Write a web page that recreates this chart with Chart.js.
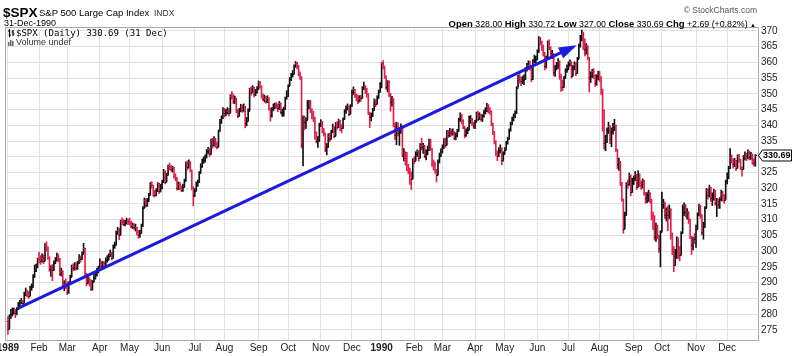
<!DOCTYPE html>
<html>
<head>
<meta charset="utf-8">
<script src="https://cdn.jsdelivr.net/npm/chart.js@4.4.1/dist/chart.umd.min.js"></script>
<style>
html,body{margin:0;padding:0;background:#fff;}
#wrap{position:relative;width:800px;height:356px;overflow:hidden;font-family:"Liberation Sans",Arial,sans-serif;color:#000;}
#c{position:absolute;left:0;top:0;}
.t{position:absolute;white-space:nowrap;line-height:1;}
.t b{font-weight:bold;font-size:9.5px;}
</style>
</head>
<body>
<div id="wrap">
<canvas id="c" width="800" height="356"></canvas>
<div class="t" style="left:3px;top:6px;font-size:13.5px;font-weight:bold;">$SPX</div>
<div class="t" style="left:39px;top:8px;font-size:9.5px;">S&amp;P 500 Large Cap Index</div>
<div class="t" style="left:154px;top:9px;font-size:8.5px;color:#333;">INDX</div>
<div class="t" style="left:4px;top:19px;font-size:9px;">31-Dec-1990</div>
<div class="t" style="right:43px;top:6px;font-size:8.5px;color:#555;">&copy; StockCharts.com</div>
<div class="t" style="right:44px;top:18.5px;font-size:8.8px;"><b>Open</b> 328.00 <b>High</b> 330.72 <b>Low</b> 327.00 <b>Close</b> 330.69 <b>Chg</b> +2.69 (+0.82%) <span style="font-size:6px">&#9650;</span></div>
<div class="t" style="left:8px;top:29px;font-size:9px;font-family:'DejaVu Sans Mono',monospace;"><svg width="7" height="8" style="vertical-align:-1px;margin-right:1px"><path d="M1.5 0V8M0 2H1.5M1.5 6H3M5 1V7M3.5 3H5M5 5H6.5" stroke="#000" stroke-width="1.2" fill="none"/></svg>$SPX (Daily) 330.69 (31 Dec)</div>
<div class="t" style="left:8px;top:37.5px;font-size:9px;color:#333;"><svg width="7" height="7" style="vertical-align:-1px;margin-right:1px"><rect x="0" y="3" width="1.5" height="4" fill="#666"/><rect x="2" y="1" width="1.5" height="6" fill="#666"/><rect x="4" y="2" width="1.5" height="5" fill="#666"/></svg>Volume undef</div>
</div>
<script>
// ---- categories / ticks ----
const monthLabels = ['1989','Feb','Mar','Apr','May','Jun','Jul','Aug','Sep','Oct','Nov','Dec',
                     '1990','Feb','Mar','Apr','May','Jun','Jul','Aug','Sep','Oct','Nov','Dec'];
const monthDays = [21,19,22,20,22,22,20,23,20,22,21,20, 22,19,22,20,22,21,21,23,19,23,21,20];
const yTicks = [275,280,285,290,295,300,305,310,315,320,325,330,335,340,345,350,355,360,365,370];

// ---- daily OHLC, $SPX Jan-1989 .. Dec-1990 ----
const opens = [
277.7,275.3,279.4,280.0,280.7,281.0,280.4,281.7,282.0,283.9,284.1,283.6,286.6,286.8,286.6,285.9,288.5,288.6,291.7,293.8,295.0,
297.5,297.1,296.8,297.7,297.0,301.6,300.8,298.2,294.3,294.6,293.9,296.4,297.2,298.6,297.7,292.9,293.8,289.0,289.7,
288.9,287.1,290.0,291.8,295.0,294.6,295.2,294.8,296.1,297.7,297.4,299.2,301.0,293.0,289.9,291.3,290.5,288.0,290.2,291.6,292.5,293.5,
294.9,296.4,295.3,296.2,295.4,297.2,297.3,298.5,299.4,297.8,301.7,302.0,305.9,306.6,305.2,309.6,309.4,308.7,309.1,309.6,
309.4,309.1,308.1,308.2,307.6,307.6,306.0,305.2,305.8,307.9,313.8,316.2,314.8,316.1,317.9,321.3,321.0,318.3,318.0,319.0,321.6,319.1,
320.5,322.0,325.5,322.0,324.2,327.0,326.7,326.0,326.6,323.8,323.4,320.1,321.4,320.3,319.6,320.5,322.3,328.0,326.6,328.4,325.8,320.5,
318.0,319.2,321.6,321.9,324.9,327.1,328.8,329.0,329.8,331.8,332.4,330.8,335.3,333.6,335.9,333.7,333.2,338.1,341.2,342.2,
345.0,343.8,344.3,344.7,343.9,349.4,349.3,347.7,348.3,344.7,343.1,344.7,346.0,345.0,346.0,340.7,341.4,344.7,351.5,350.5,352.1,349.8,350.7,
351.5,353.7,352.6,349.2,348.4,348.8,347.7,348.7,345.5,343.2,345.1,346.2,346.6,346.1,345.4,347.1,344.2,344.3,345.1,348.6,
349.2,352.6,354.7,356.0,356.3,358.8,359.8,359.1,356.4,355.4,333.7,342.9,341.2,341.8,347.1,347.2,344.8,343.7,342.5,337.9,335.1,335.1,
340.4,341.2,338.5,337.6,332.6,333.1,336.6,335.6,338.0,339.6,336.6,340.5,339.6,341.6,339.6,339.0,341.9,344.6,345.6,346.2,343.7,
346.0,350.6,351.4,349.6,348.6,347.6,348.7,348.6,351.7,352.6,350.9,350.1,344.2,342.5,342.8,344.8,348.0,346.8,348.8,350.7,
353.4,359.7,358.8,355.7,352.2,353.8,349.6,347.3,348.5,339.9,337.0,340.8,337.4,338.2,339.2,330.4,331.6,330.3,326.1,325.8,325.2,323.0,
329.1,328.8,330.9,331.9,329.7,333.8,333.0,333.6,330.1,331.0,332.0,334.9,332.7,328.0,327.7,325.7,324.2,328.7,330.3,
331.9,332.7,335.5,333.7,337.9,337.0,338.3,337.5,338.0,336.0,336.9,338.1,341.9,343.5,341.6,339.7,336.8,338.2,338.6,341.5,342.0,340.8,
339.9,341.2,343.6,342.1,343.3,342.1,342.9,344.2,344.7,346.1,344.7,344.6,340.7,338.1,335.1,331.1,330.4,332.0,332.9,329.1,
330.8,332.3,334.5,335.6,338.4,340.5,342.0,342.9,343.8,352.0,354.8,354.3,354.0,354.5,354.6,358.0,358.4,359.3,358.4,354.6,360.7,360.9,
361.2,363.2,367.4,366.6,365.0,363.2,358.7,361.6,366.3,364.9,362.9,362.9,356.9,358.5,359.1,360.5,355.4,352.3,352.1,355.1,357.6,
358.0,359.5,360.2,355.7,358.4,359.5,356.5,361.2,365.4,367.3,369.0,367.5,364.2,365.3,361.6,355.3,355.8,357.1,355.9,353.4,355.6,
356.2,355.5,351.5,344.9,334.4,334.8,338.4,339.9,335.5,338.8,339.4,340.1,332.4,327.8,328.5,321.9,316.6,307.1,311.5,321.4,321.3,324.2,318.7,
322.6,323.1,324.4,320.5,323.4,321.6,321.0,322.5,318.7,316.8,317.8,318.6,316.6,311.5,311.3,304.6,308.3,305.1,301.0,
306.1,314.9,315.2,311.4,312.7,311.5,313.5,305.1,300.4,295.5,300.0,303.2,298.9,298.8,305.7,312.5,314.8,312.4,312.6,310.2,304.7,301.9,304.1,
304.0,307.0,311.9,314.6,311.6,306.0,307.6,313.7,319.5,317.7,320.4,317.0,317.1,319.3,315.3,316.0,315.1,316.5,318.1,318.0,316.4,
322.2,324.1,326.4,329.9,329.1,327.8,328.9,326.4,330.2,329.3,326.8,326.0,330.1,330.2,330.1,331.8,329.9,330.9,328.3,328.00
];
const highs = [
279.2,279.8,281.5,282.0,281.9,281.6,282.1,283.7,284.4,285.0,284.3,287.0,288.3,287.6,287.2,288.9,289.6,292.6,295.6,295.9,297.8,
299.7,298.6,299.2,298.9,302.4,303.0,301.4,298.2,295.4,295.8,296.9,298.0,299.4,299.0,297.7,294.6,293.8,290.6,291.2,
290.2,290.3,292.4,295.6,296.0,296.4,296.3,296.8,298.9,298.5,299.8,302.5,301.0,293.0,292.6,291.6,290.9,290.7,292.6,293.4,294.6,295.3,
297.6,296.9,296.7,296.7,297.9,298.6,299.2,300.4,299.6,302.0,302.9,306.4,307.6,307.3,309.9,310.6,310.1,309.8,310.5,310.2,
310.5,309.6,309.0,308.8,308.6,307.6,306.6,306.6,308.6,314.2,316.9,316.7,316.8,318.4,321.8,322.1,321.0,319.3,319.9,321.8,321.6,321.3,
322.5,326.0,325.5,324.8,327.4,328.0,327.3,327.0,326.6,324.6,323.4,322.0,321.8,320.8,321.3,322.9,328.4,328.7,329.0,328.4,325.8,320.5,
319.9,322.0,322.6,325.3,327.8,329.3,330.0,330.6,332.3,333.0,332.6,335.6,335.9,336.4,335.9,334.7,338.5,341.9,343.0,345.6,
345.4,345.0,345.6,345.4,349.7,350.7,349.9,349.3,348.6,345.1,345.4,346.7,346.5,346.8,346.0,342.5,345.2,351.8,352.2,352.6,352.1,351.4,352.3,
354.1,353.9,352.6,350.0,349.6,349.2,349.4,348.8,345.5,345.6,346.8,347.1,347.2,346.8,347.6,347.1,345.2,345.8,349.0,351.0,
352.9,355.2,356.5,357.4,359.2,360.3,360.0,359.1,357.0,355.5,343.0,342.9,342.4,347.9,347.9,348.0,345.2,344.5,342.5,337.9,336.4,340.7,
341.8,341.2,339.0,337.6,334.2,337.3,337.5,338.4,340.4,339.6,340.9,341.2,342.0,341.6,340.2,342.4,345.0,346.2,346.8,346.2,346.6,
351.3,352.2,351.4,350.0,349.6,349.4,349.5,352.3,353.7,352.6,351.8,350.1,344.2,343.9,345.4,348.4,348.2,349.4,351.2,353.6,
359.9,360.6,358.8,355.7,354.2,354.2,350.2,349.2,348.5,340.8,341.0,340.8,338.9,340.5,339.9,332.6,331.6,331.4,327.6,326.4,325.2,329.4,
330.0,331.6,332.2,331.9,334.2,335.9,334.3,333.6,332.2,333.4,335.6,335.6,332.7,329.0,328.3,326.0,329.0,331.2,332.5,
333.8,335.8,336.0,338.4,338.4,339.0,338.8,338.9,338.0,337.6,338.7,342.3,344.0,343.5,341.8,339.7,338.9,339.4,342.9,343.1,342.2,341.0,
341.6,344.2,344.5,344.0,343.6,343.4,344.8,345.6,347.0,346.6,345.6,344.6,340.7,338.1,335.1,331.9,332.9,333.8,332.9,331.6,
332.9,334.9,336.2,338.9,341.0,342.6,343.6,344.6,352.3,355.9,356.9,355.3,355.6,356.0,358.4,359.7,360.5,360.4,358.4,360.9,362.3,362.0,
364.0,368.2,368.0,366.8,365.5,363.2,362.0,366.8,367.2,365.0,363.8,362.9,359.0,360.0,361.2,360.5,356.3,354.4,355.6,358.0,359.2,
360.2,360.8,360.2,359.0,360.2,359.9,361.6,365.9,368.6,370.3,369.6,367.5,366.0,365.3,361.6,357.0,357.8,358.0,356.0,356.1,357.2,
357.1,355.5,351.5,344.9,336.8,339.2,341.0,339.9,339.2,340.6,341.9,340.1,332.4,329.6,328.5,321.9,316.6,312.4,321.8,322.6,324.8,324.2,323.2,
323.9,325.3,324.4,325.6,324.6,322.3,323.0,322.5,318.7,318.6,319.4,318.6,316.6,312.4,311.3,308.9,308.3,305.1,306.5,
318.8,316.5,315.6,313.8,314.3,314.7,313.5,305.8,301.5,300.6,304.6,304.3,301.5,306.2,314.7,315.4,314.8,313.5,312.6,310.2,304.7,304.5,305.6,
308.3,312.2,315.0,314.6,311.6,309.2,314.2,319.9,319.9,321.0,320.4,318.6,319.7,319.3,316.8,316.6,317.0,319.4,319.0,318.0,322.6,
324.9,327.0,332.6,330.6,329.3,329.5,328.9,330.6,330.8,329.3,326.8,330.4,331.6,331.2,332.2,331.8,331.4,330.9,329.4,330.72
];
const lows = [
273.6,275.3,278.6,279.4,280.0,278.9,279.8,281.4,282.0,283.3,282.3,283.6,285.8,285.5,285.0,285.9,287.6,288.6,291.7,293.5,294.7,
296.3,295.8,296.5,296.0,297.0,300.0,297.4,293.6,292.0,290.6,293.9,296.0,296.8,296.6,292.3,292.1,288.4,287.4,288.1,
286.2,286.6,289.5,291.8,293.8,294.0,294.0,294.2,296.1,296.5,297.3,299.2,292.2,289.0,289.6,288.9,287.5,287.6,290.2,291.1,292.1,293.1,
294.9,294.5,294.8,294.4,295.2,296.5,297.3,298.4,297.2,297.8,300.9,302.0,305.3,303.7,305.2,308.4,308.1,308.0,308.6,308.5,
308.4,307.4,307.2,306.9,306.4,305.2,304.1,304.4,305.8,307.9,313.8,314.0,314.2,315.8,317.9,320.0,317.4,317.2,317.6,319.0,318.3,318.8,
319.8,322.0,321.4,322.0,324.2,325.8,325.4,325.1,323.2,322.4,319.4,319.6,319.6,318.9,319.0,320.4,322.3,325.8,326.4,325.2,319.5,314.4,
317.3,319.2,320.6,321.9,324.9,326.6,327.9,328.3,329.6,330.9,330.0,330.8,332.8,333.4,333.0,332.5,333.2,338.1,340.6,342.2,
342.6,343.0,343.6,343.0,343.9,348.3,346.9,346.9,344.0,342.4,342.9,344.3,344.1,344.4,339.2,339.8,341.4,344.7,349.6,350.2,349.0,349.4,350.2,
351.4,351.8,348.6,347.8,347.4,347.0,347.2,344.8,341.3,342.6,344.6,345.3,345.3,344.3,345.0,343.6,342.8,342.9,345.1,348.3,
349.2,352.6,354.2,355.3,356.3,358.4,357.9,355.7,354.6,332.8,327.1,338.6,339.0,341.8,345.2,344.0,342.0,341.2,335.6,334.4,333.0,335.1,
339.6,337.6,336.6,331.6,330.6,333.1,334.8,335.6,337.6,336.0,336.6,338.8,339.4,338.2,337.6,339.0,341.9,343.8,344.8,343.0,343.7,
346.0,349.8,348.8,347.8,346.9,347.4,347.6,348.6,351.3,350.1,348.9,343.4,339.3,341.4,342.8,344.8,345.9,346.8,348.6,350.7,
351.9,357.9,354.9,351.4,350.6,349.1,344.5,346.1,339.5,335.4,333.8,336.6,333.6,337.4,330.2,328.7,327.3,325.5,324.6,321.2,319.6,323.0,
327.8,328.8,330.1,328.6,329.7,332.2,331.1,329.7,329.0,330.6,332.0,332.0,326.9,325.8,324.8,322.0,324.2,328.0,330.0,
331.2,332.7,333.0,333.7,336.1,336.4,336.6,336.9,335.4,335.4,336.3,338.1,341.2,340.4,338.9,336.0,336.5,337.3,338.6,340.6,339.9,339.0,
338.9,341.2,341.5,341.8,341.4,341.2,342.6,343.6,344.3,343.9,343.5,339.9,337.0,334.1,330.3,328.8,330.0,331.2,327.4,328.6,
330.8,332.3,334.0,335.6,338.1,340.2,341.4,342.4,343.8,352.0,353.4,352.6,353.2,352.9,354.6,357.2,357.8,357.5,353.8,354.6,359.9,359.6,
360.8,363.2,365.6,363.8,362.0,357.6,358.2,361.6,364.0,361.8,361.2,355.8,355.5,357.6,358.0,354.6,350.8,351.0,352.1,355.1,356.8,
357.8,358.8,355.0,355.7,357.6,355.8,356.5,361.2,364.8,366.8,364.0,362.0,362.6,360.8,350.6,353.6,355.2,354.8,352.4,352.7,354.4,
353.9,349.8,338.2,332.4,331.9,334.6,337.4,334.2,333.2,337.2,338.3,331.6,326.2,325.7,320.8,315.9,305.7,307.1,311.5,320.0,320.9,317.6,318.6,
321.2,322.4,319.6,320.5,320.6,319.6,320.0,317.8,315.2,315.4,315.8,315.3,309.9,306.8,303.5,303.1,304.0,299.6,295.0,
306.1,313.6,310.4,309.6,306.5,310.3,303.8,298.9,293.5,295.5,297.7,297.6,296.9,298.8,305.7,311.3,310.9,310.2,308.8,304.0,299.0,300.4,302.4,
301.2,307.0,311.2,310.4,305.2,303.8,307.6,313.7,316.5,317.2,315.8,314.5,316.2,314.6,311.0,313.6,313.6,316.0,315.9,315.2,316.4,
321.4,323.0,326.2,328.0,326.4,326.9,325.6,326.4,328.2,325.9,323.8,326.0,329.0,328.8,329.3,329.0,329.2,327.6,327.0,327.00
];
const closes = [
275.3,279.4,280.0,280.7,281.0,280.4,281.7,282.0,283.9,284.1,283.6,286.6,286.8,286.6,285.9,288.5,288.6,291.7,293.8,295.0,297.5,
297.1,296.8,297.7,297.0,301.6,300.8,298.2,294.3,294.6,293.9,296.4,297.2,298.6,297.7,292.9,293.8,289.0,289.7,288.9,
287.1,290.0,291.8,295.0,294.6,295.2,294.8,296.1,297.7,297.4,299.2,301.0,293.0,289.9,291.3,290.5,288.0,290.2,291.6,292.5,293.5,294.9,
296.4,295.3,296.2,295.4,297.2,297.3,298.5,299.4,297.8,301.7,302.0,305.9,306.6,305.2,309.6,309.4,308.7,309.1,309.6,309.4,
309.1,308.1,308.2,307.6,307.6,306.0,305.2,305.8,307.9,313.8,316.2,314.8,316.1,317.9,321.3,321.0,318.3,318.0,319.0,321.6,319.1,320.5,
322.0,325.5,322.0,324.2,327.0,326.7,326.0,326.6,323.8,323.4,320.1,321.4,320.3,319.6,320.5,322.3,328.0,326.6,328.4,325.8,320.5,318.0,
319.2,321.6,321.9,324.9,327.1,328.8,329.0,329.8,331.8,332.4,330.8,335.3,333.6,335.9,333.7,333.2,338.1,341.2,342.2,345.0,
343.8,344.3,344.7,343.9,349.4,349.3,347.7,348.3,344.7,343.1,344.7,346.0,345.0,346.0,340.7,341.4,344.7,351.5,350.5,352.1,349.8,350.7,351.5,
353.7,352.6,349.2,348.4,348.8,347.7,348.7,345.5,343.2,345.1,346.2,346.6,346.1,345.4,347.1,344.2,344.3,345.1,348.6,349.2,
352.6,354.7,356.0,356.3,358.8,359.8,359.1,356.4,355.4,333.7,342.9,341.2,341.8,347.1,347.2,344.8,343.7,342.5,337.9,335.1,335.1,340.4,
341.2,338.5,337.6,332.6,333.1,336.6,335.6,338.0,339.6,336.6,340.5,339.6,341.6,339.6,339.0,341.9,344.6,345.6,346.2,343.7,346.0,
350.6,351.4,349.6,348.6,347.6,348.7,348.6,351.7,352.6,350.9,350.1,344.2,342.5,342.8,344.8,348.0,346.8,348.8,350.7,353.4,
359.7,358.8,355.7,352.2,353.8,349.6,347.3,348.5,339.9,337.0,340.8,337.4,338.2,339.2,330.4,331.6,330.3,326.1,325.8,325.2,323.0,329.1,
328.8,330.9,331.9,329.7,333.8,333.0,333.6,330.1,331.0,332.0,334.9,332.7,328.0,327.7,325.7,324.2,328.7,330.3,331.9,
332.7,335.5,333.7,337.9,337.0,338.3,337.5,338.0,336.0,336.9,338.1,341.9,343.5,341.6,339.7,336.8,338.2,338.6,341.5,342.0,340.8,339.9,
341.2,343.6,342.1,343.3,342.1,342.9,344.2,344.7,346.1,344.7,344.6,340.7,338.1,335.1,331.1,330.4,332.0,332.9,329.1,330.8,
332.3,334.5,335.6,338.4,340.5,342.0,342.9,343.8,352.0,354.8,354.3,354.0,354.5,354.6,358.0,358.4,359.3,358.4,354.6,360.7,360.9,361.2,
363.2,367.4,366.6,365.0,363.2,358.7,361.6,366.3,364.9,362.9,362.9,356.9,358.5,359.1,360.5,355.4,352.3,352.1,355.1,357.6,358.0,
359.5,360.2,355.7,358.4,359.5,356.5,361.2,365.4,367.3,369.0,367.5,364.2,365.3,361.6,355.3,355.8,357.1,355.9,353.4,355.6,356.2,
355.5,351.5,344.9,334.4,334.8,338.4,339.9,335.5,338.8,339.4,340.1,332.4,327.8,328.5,321.9,316.6,307.1,311.5,321.4,321.3,324.2,318.7,322.6,
323.1,324.4,320.5,323.4,321.6,321.0,322.5,318.7,316.8,317.8,318.6,316.6,311.5,311.3,304.6,308.3,305.1,301.0,306.1,
314.9,315.2,311.4,312.7,311.5,313.5,305.1,300.4,295.5,300.0,303.2,298.9,298.8,305.7,312.5,314.8,312.4,312.6,310.2,304.7,301.9,304.1,304.0,
307.0,311.9,314.6,311.6,306.0,307.6,313.7,319.5,317.7,320.4,317.0,317.1,319.3,315.3,316.0,315.1,316.5,318.1,318.0,316.4,322.2,
324.1,326.4,329.9,329.1,327.8,328.9,326.4,330.2,329.3,326.8,326.0,330.1,330.2,330.1,331.8,329.9,330.9,328.3,328.0,330.69
];

// ---- hand-drawn trend arrow (shaft start / end, in trading-day index & price) ----
const trendX = [7.0, 381.2];
const trendY = [281.9, 364.9];

// ---- styling ----
const FONT = "'Liberation Sans', Arial, sans-serif";
const RED = '#e3204d', BLACK = '#111111', BLUE = '#1a1ae0', GRID = '#e2e2e2';

const starts = [];
{ let acc = 0; monthDays.forEach(d => { starts.push(acc); acc += d; }); }
const colors = closes.map((c, i) => (c < (i === 0 ? opens[0] : closes[i - 1])) ? RED : BLACK);

const framePlugin = {
  id: 'frame',
  beforeDatasetsDraw(chart) {
    const { ctx, chartArea: a } = chart;
    ctx.save();
    ctx.strokeStyle = '#a8a8a8'; ctx.lineWidth = 1;
    ctx.strokeRect(Math.round(a.left) - 0.5, Math.round(a.top) - 0.5,
                   Math.round(a.right - a.left) + 1, Math.round(a.bottom - a.top) + 1);
    ctx.restore();
  }
};

const ohlcTicks = {
  id: 'ohlcTicks',
  afterDatasetDraw(chart, args) {
    if (args.index !== 1) return;
    const { ctx } = chart;
    const xs = chart.scales.x, ys = chart.scales.y;
    ctx.save();
    ctx.lineWidth = 1;
    for (let i = 0; i < closes.length; i++) {
      const px = xs.getPixelForValue(i);
      const yo = Math.round(ys.getPixelForValue(opens[i])) + 0.5;
      const yc = Math.round(ys.getPixelForValue(closes[i])) + 0.5;
      ctx.strokeStyle = colors[i];
      ctx.beginPath();
      ctx.moveTo(px - 1.8, yo); ctx.lineTo(px, yo);
      ctx.moveTo(px, yc); ctx.lineTo(px + 1.8, yc);
      ctx.stroke();
    }
    ctx.restore();
  }
};

const arrowHead = {
  id: 'arrowHead',
  afterDatasetsDraw(chart) {
    const { ctx } = chart;
    const xs = chart.scales.x, ys = chart.scales.y;
    const x0 = xs.getPixelForValue(trendX[0]), y0 = ys.getPixelForValue(trendY[0]);
    const x1 = xs.getPixelForValue(trendX[1]), y1 = ys.getPixelForValue(trendY[1]);
    const a = Math.atan2(y1 - y0, x1 - x0), c = Math.cos(a), s = Math.sin(a);
    const tx = x1 + 4 * c, ty = y1 + 4 * s;
    const L = 18, W = 6;
    const bx = tx - L * c, by = ty - L * s;
    ctx.save();
    ctx.fillStyle = BLUE;
    ctx.beginPath();
    ctx.moveTo(tx, ty);
    ctx.lineTo(bx - W * s, by + W * c);
    ctx.lineTo(bx + W * s, by - W * c);
    ctx.closePath();
    ctx.fill();
    ctx.restore();
  }
};

const lastTag = {
  id: 'lastTag',
  afterDraw(chart) {
    const { ctx, chartArea: a } = chart;
    const ys = chart.scales.y;
    const v = closes[closes.length - 1];
    const y = Math.round(ys.getPixelForValue(v)) + 0.5;
    const xl = Math.round(a.right) + 0.5;
    ctx.save();
    ctx.beginPath();
    ctx.moveTo(xl, y);
    ctx.lineTo(xl + 4, y - 5.5);
    ctx.lineTo(xl + 33, y - 5.5);
    ctx.lineTo(xl + 33, y + 5.5);
    ctx.lineTo(xl + 4, y + 5.5);
    ctx.closePath();
    ctx.fillStyle = '#fff'; ctx.fill();
    ctx.strokeStyle = '#000'; ctx.lineWidth = 1; ctx.stroke();
    ctx.fillStyle = '#000';
    ctx.font = 'bold 9px ' + FONT;
    ctx.textBaseline = 'middle'; ctx.textAlign = 'left';
    ctx.fillText(v.toFixed(2), xl + 4.5, y + 0.5);
    ctx.restore();
  }
};

new Chart(document.getElementById('c'), {
  type: 'bar',
  data: {
    datasets: [
      {
        type: 'line', label: 'trend',
        data: trendX.map((x, i) => ({ x: x, y: trendY[i] })),
        borderColor: BLUE, borderWidth: 3, pointRadius: 0, order: 0,
        borderCapStyle: 'butt', tension: 0
      },
      {
        type: 'bar', label: '$SPX',
        data: closes.map((c, i) => ({ x: i, y: [lows[i], highs[i]] })),
        backgroundColor: colors, borderWidth: 0, barThickness: 1, order: 1
      }
    ]
  },
  options: {
    responsive: false, animation: false, devicePixelRatio: 1,
    layout: { padding: { left: 6, top: 28, right: 0, bottom: 0 } },
    plugins: { legend: { display: false }, tooltip: { enabled: false } },
    scales: {
      x: {
        type: 'linear', min: -1.3, max: 505.8, offset: false,
        grid: { color: GRID, offset: false, drawTicks: false },
        border: { display: false },
        afterBuildTicks: s => { s.ticks = starts.map(v => ({ value: v })); },
        afterFit: s => { s.height = 16; s.paddingLeft = 0; s.paddingRight = 0; },
        ticks: {
          autoSkip: false, maxRotation: 0, minRotation: 0, padding: 2, color: '#222',
          callback: (v, i) => monthLabels[i],
          font: ctx => ({ family: FONT, size: 10,
                          weight: /^\d{4}$/.test(monthLabels[ctx.index] || '') ? 'bold' : 'normal' })
        }
      },
      y: {
        type: 'linear', position: 'right', min: 271.78, max: 370.92, beginAtZero: false,
        grid: { color: GRID, drawTicks: false },
        border: { display: false },
        afterBuildTicks: s => { s.ticks = yTicks.map(v => ({ value: v })); },
        afterFit: s => { s.width = 42; s.paddingTop = 0; s.paddingBottom = 0; },
        ticks: { padding: 3, color: '#222', font: { family: FONT, size: 10 }, callback: v => String(v) }
      }
    }
  },
  plugins: [framePlugin, ohlcTicks, arrowHead, lastTag]
});
</script>
</body>
</html>
